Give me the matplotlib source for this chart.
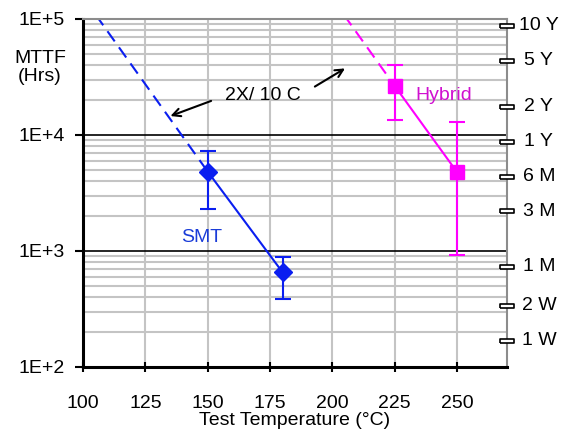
import numpy as np
import matplotlib
matplotlib.use("Agg")
import matplotlib.pyplot as plt
from matplotlib.path import Path

plt.rcParams["font.family"] = ["Liberation Sans", "DejaVu Sans"]
plt.rcParams["font.size"] = 14

# data
smt_temp = [150, 180]
smt_mttf = [4830, 655]
smt_hi = [7330, 887]
smt_lo = [2290, 385]

hyb_temp = [225, 250]
hyb_mttf = [26400, 4770]
hyb_hi = [40100, 12870]
hyb_lo = [13500, 925]

accel = 2.0  # 2X per 10 C

life_labels = ["10 Y", "5 Y", "2 Y", "1 Y", "6 M", "3 M", "1 M", "2 W", "1 W"]
life_hours = [87600, 43800, 17520, 8760, 4380, 2190, 730, 336, 168]

xticks = [100, 125, 150, 175, 200, 225, 250]
yticks = [1e2, 1e3, 1e4, 1e5]
ytick_labels = ["1E+2", "1E+3", "1E+4", "1E+5"]

blue = "#0a1ef0"
magenta = "#ff00ff"

fig = plt.figure(figsize=(5.61, 4.32), dpi=100)
ax = fig.add_axes([0.148, 0.1505, 0.7558, 0.8056])
ax.set_yscale("log")
ax.set_xlim(100, 270)
ax.set_ylim(1e2, 1e5)

# grid
ax.set_xticks(xticks)
ax.set_yticks(yticks, ytick_labels)
ax.grid(True, axis="x", which="major", color="#c4c4c4", lw=1.5)
ax.grid(True, axis="y", which="minor", color="#c4c4c4", lw=1.5)
ax.grid(True, axis="y", which="major", color="black", lw=1.2)
ax.set_axisbelow(True)

ax.tick_params(axis="y", which="major", direction="out", length=6, width=1.5, pad=7)
ax.tick_params(axis="y", which="minor", length=0)
ax.tick_params(axis="x", which="major", direction="inout", length=7, width=1.5, pad=17)

for s in ["left", "bottom"]:
    ax.spines[s].set_linewidth(2.2)
    ax.spines[s].set_color("black")
for s in ["top", "right"]:
    ax.spines[s].set_linewidth(1.5)
    ax.spines[s].set_color("#8c8c8c")

ax.set_xlabel("Test Temperature (°C)", labelpad=-0.5)

# extrapolated 2X/10C lines
x_smt = np.array([100, smt_temp[0]])
ax.plot(x_smt, smt_mttf[0] * accel ** ((smt_temp[0] - x_smt) / 10),
        color=blue, lw=1.5, dashes=(6, 3.5))
x_hyb = np.array([195, hyb_temp[0]])
ax.plot(x_hyb, hyb_mttf[0] * accel ** ((hyb_temp[0] - x_hyb) / 10),
        color=magenta, lw=1.5, dashes=(6, 3.5))

# measured data
smt_err = [np.array(smt_mttf) - np.array(smt_lo), np.array(smt_hi) - np.array(smt_mttf)]
ax.errorbar(smt_temp, smt_mttf, yerr=smt_err, color=blue, lw=1.5, marker="D",
            ms=9, capsize=5.5, capthick=1.5, elinewidth=1.5)
hyb_err = [np.array(hyb_mttf) - np.array(hyb_lo), np.array(hyb_hi) - np.array(hyb_mttf)]
ax.errorbar(hyb_temp, hyb_mttf, yerr=hyb_err, color=magenta, lw=1.5, marker="s",
            ms=10, capsize=5.5, capthick=1.5, elinewidth=1.5)

ax.text(147.6, 1294, "SMT", color="#1a3cd8", ha="center", va="center")
ax.text(244.8, 21700, "Hybrid", color="#d010d0", ha="center", va="center")

ax.text(172, 21800, "2X/ 10 C", ha="center", va="center")
ax.annotate("", xy=(134, 14290), xytext=(152.4, 20040),
            arrowprops=dict(arrowstyle="->", color="black", lw=1.5))
ax.annotate("", xy=(206, 38550), xytext=(192, 25400),
            arrowprops=dict(arrowstyle="->", color="black", lw=1.5))

fig.text(0.0713, 0.843, "MTTF\n(Hrs)", ha="center", va="center", linespacing=1.05)

# right-hand life scale
rect = Path([(-1, -0.3), (1, -0.3), (1, 0.3), (-1, 0.3), (-1, -0.3)])
ax.plot([270] * len(life_hours), life_hours, ls="none", marker=rect, ms=10,
        mfc="white", mec="black", mew=1.2, clip_on=False, zorder=5)
for lab, h in zip(life_labels, life_hours):
    ax.text(1.075, h, lab, transform=ax.get_yaxis_transform(),
            ha="center", va="center")

fig.savefig("out.png", dpi=100)
